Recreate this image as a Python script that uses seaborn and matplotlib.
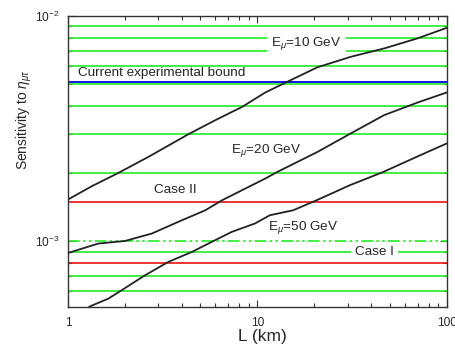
import matplotlib
matplotlib.use("Agg")
import matplotlib.pyplot as plt
import pandas as pd
import seaborn as sns
from matplotlib.ticker import LogLocator, NullFormatter, FixedLocator, FixedFormatter

# sensitivity curves: baseline L (km) -> sensitivity
L_10 = [1.0, 1.335, 1.845, 2.66, 4.33, 6.0, 8.3, 11.02, 13.78, 20.7, 31.05, 46.6, 70.0, 100.0]
S_10 = [1.532e-3, 1.755e-3, 2.011e-3, 2.37e-3, 2.99e-3, 3.45e-3, 3.95e-3, 4.58e-3,
        5.02e-3, 5.92e-3, 6.59e-3, 7.18e-3, 7.96e-3, 8.87e-3]
L_20 = [1.0, 1.447, 2.0, 2.77, 4.0, 5.31, 6.51, 8.64, 11.02, 12.71, 20.7, 31.05, 46.6, 70.0, 100.0]
S_20 = [8.87e-4, 9.77e-4, 1.003e-3, 1.082e-3, 1.24e-3, 1.373e-3, 1.521e-3, 1.715e-3,
        1.9e-3, 2.03e-3, 2.49e-3, 3.01e-3, 3.63e-3, 4.13e-3, 4.58e-3]
L_50 = [1.0, 1.307, 1.632, 1.92, 2.55, 3.38, 4.5, 5.73, 7.31, 9.7, 11.64, 15.45,
        20.53, 30.77, 46.1, 69.2, 100.0]
S_50 = [4.3e-4, 5.14e-4, 5.56e-4, 6.06e-4, 7.06e-4, 8.09e-4, 8.96e-4, 9.93e-4, 1.1e-3,
        1.199e-3, 1.305e-3, 1.373e-3, 1.521e-3, 1.774e-3, 2.03e-3, 2.37e-3, 2.72e-3]

green_levels = [9e-3, 8e-3, 7e-3, 6e-3, 5e-3, 4e-3, 3e-3, 2e-3, 9e-4, 7e-4, 6e-4]
dashdot_level = 1e-3
current_bound = 5.1e-3
case_ii = 1.5e-3
case_i = 8e-4

sns.set_theme(style="ticks")
plt.rcParams["font.family"] = ["Liberation Sans", "DejaVu Sans"]
plt.rcParams["mathtext.fontset"] = "custom"
plt.rcParams["mathtext.rm"] = "Liberation Sans"
plt.rcParams["mathtext.it"] = "Liberation Sans:italic"

curves = pd.concat([
    pd.DataFrame({"L": L_10, "S": S_10, "E": "10"}),
    pd.DataFrame({"L": L_20, "S": S_20, "E": "20"}),
    pd.DataFrame({"L": L_50, "S": S_50, "E": "50"}),
])

fig = plt.figure(figsize=(4.56, 3.49), dpi=100)
ax = fig.add_axes([0.149, 0.120, 0.831, 0.834])

green = "#22ee22"
for y in green_levels:
    ax.axhline(y, color=green, linewidth=1.2, zorder=1)
ax.axhline(dashdot_level, color=green, linewidth=1.2, zorder=1,
           linestyle=(0, (7, 2, 1.5, 2, 1.5, 2)))
ax.axhline(current_bound, color="#0000ee", linewidth=1.3, zorder=1)
ax.axhline(case_ii, color="#ee1111", linewidth=1.2, zorder=1)
ax.axhline(case_i, color="#ee1111", linewidth=1.2, zorder=1)

sns.lineplot(data=curves, x="L", y="S", hue="E", palette=["#222222"] * 3,
             linewidth=1.3, legend=False, ax=ax, zorder=3, sort=False)

ax.set_xscale("log")
ax.set_yscale("log")
ax.set_xlim(1, 100)
ax.set_ylim(5.1e-4, 1e-2)

ax.xaxis.set_major_locator(FixedLocator([1, 10, 100]))
ax.xaxis.set_major_formatter(FixedFormatter(["1", "10", "100"]))
ax.xaxis.set_minor_locator(LogLocator(base=10, subs=range(2, 10)))
ax.xaxis.set_minor_formatter(NullFormatter())
ax.yaxis.set_major_locator(FixedLocator([1e-3, 1e-2]))
ax.yaxis.set_major_formatter(FixedFormatter([r"10$^{-3}$", r"10$^{-2}$"]))
ax.yaxis.set_minor_locator(LogLocator(base=10, subs=range(2, 10)))
ax.yaxis.set_minor_formatter(NullFormatter())
ax.tick_params(which="both", direction="in", top=True, right=True,
               labelsize=8.6, color="#333333", width=0.8)
ax.tick_params(which="major", length=5)
ax.tick_params(which="minor", length=3)
ax.tick_params(axis="x", which="major", pad=7)
ax.tick_params(axis="y", which="major", pad=6)
for s in ax.spines.values():
    s.set_linewidth(1.0)
    s.set_color("#333333")

ax.set_xlabel("L (km)", fontsize=12.5)
ax.xaxis.set_label_coords(0.513, -0.075)
ax.set_ylabel(r"Sensitivity to $\eta_{\mu\tau}$", fontsize=10)
ax.yaxis.set_label_coords(-0.09, 0.643)

fs = 9.7
ax.text(1.129, 5.58e-3, "Current experimental bound", fontsize=fs, zorder=4,
        va="center", ha="left")
ax.text(18.18, 7.38e-3, r"E$_\mu$=10 GeV", fontsize=fs, zorder=4,
        va="baseline", ha="center",
        bbox=dict(boxstyle="square,pad=0.35", facecolor="white", edgecolor="none"))
ax.text(11.06, 2.48e-3, r"E$_\mu$=20 GeV", fontsize=fs, zorder=4,
        va="baseline", ha="center")
ax.text(3.69, 1.64e-3, "Case II", fontsize=fs, zorder=4,
        va="baseline", ha="center")
ax.text(17.45, 1.119e-3, r"E$_\mu$=50 GeV", fontsize=fs, zorder=4,
        va="baseline", ha="center")
ax.text(41.7, 8.73e-4, "Case I", fontsize=fs, zorder=4,
        va="baseline", ha="center",
        bbox=dict(boxstyle="square,pad=0.3", facecolor="white", edgecolor="none"))

fig.savefig("out.png", dpi=100)
